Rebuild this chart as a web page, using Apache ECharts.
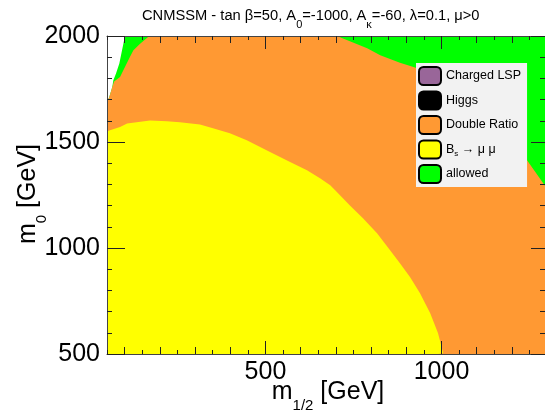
<!DOCTYPE html>
<html>
<head>
<meta charset="utf-8">
<script src="https://cdn.jsdelivr.net/npm/echarts@6/dist/echarts.min.js"></script>
<style>
  html, body { margin: 0; padding: 0; background: #ffffff; }
  #chart { width: 545px; height: 412px; }
</style>
</head>
<body>
<div id="chart"></div>
<script>
// Region edges in the (m_1/2, m_0) plane, GeV. Each region is filled from m_0 = 500 up to its edge.
const allowedEdgeX = [50, 56.5, 65, 68, 75.6, 85, 94.6, 101, 1300];
const allowedEdgeY = [1689, 1712, 1759, 1791, 1823, 1870, 1948, 2000, 2000];

const doubleRatioEdgeX = [50, 56.5, 65, 70, 72.7, 87, 101, 115, 125, 144, 170, 703, 789, 826, 882, 925, 1024, 1110, 1181, 1243, 1289, 1300];
const doubleRatioEdgeY = [1689, 1712, 1759, 1785, 1790, 1807, 1854, 1901, 1933, 1964, 2000, 2000, 1942, 1909, 1874, 1852, 1777, 1683, 1565, 1414, 1305, 1280];

const bsmmEdgeX = [50, 58.5, 87, 107, 172, 220, 257, 314, 351, 399, 447, 513, 570, 618, 655, 684, 698, 740, 777, 817, 854, 882, 911, 939, 968, 990, 1005, 1008];
const bsmmEdgeY = [1550, 1555, 1571, 1587, 1602, 1598, 1593, 1582, 1565, 1541, 1508, 1453, 1406, 1367, 1329, 1296, 1272, 1201, 1140, 1069, 989, 928, 862, 786, 692, 599, 503, 500];

// Legend entries (key, colour)
const legendKeys = ['Charged LSP', 'Higgs', 'Double Ratio', 'Bs', 'allowed'];
const legendColors = ['#996699', '#000000', '#FF9933', '#FFFF00', '#00FF00'];

// Axis ranges and tick spacings
const xRange = [50, 1294];
const yRange = [500, 2000];
const xSmallStep = 50, xMidStep = 100, xMajorStep = 500;
const yMajorStep = 500, yMinorSplit = 5;

// Axis titles (rich text: m = main, s = subscript)
const xTitle = '{m|m}{s|1/2}{m| [GeV]}';
const yTitle = '{m|m}{s|0}{m| [GeV]}';

const FONT = '"Liberation Sans", Arial, Helvetica, sans-serif';
const AXIS_COLOR = '#444';
const TICK_COLOR = '#222';

// plot frame in pixels
const FRAME_LEFT = 107, FRAME_RIGHT = 0, FRAME_TOP = 36, FRAME_BOTTOM = 58;
const PX_PER_GEV = (545 - FRAME_LEFT - FRAME_RIGHT) / (xRange[1] - xRange[0]);

function pairs(xs, ys) { return xs.map((x, i) => [x, ys[i]]); }

const titleRich = {
  m: { fontSize: 25, lineHeight: 28, verticalAlign: 'top', fontFamily: FONT, fill: '#000', color: '#000' },
  s: { fontSize: 15, lineHeight: 16, padding: [19, 0, 0, 0], verticalAlign: 'top', fontFamily: FONT, fill: '#000', color: '#000' }
};

// Three overlaid grids share the same GeV-to-pixel scale; each one starts at a
// tick-aligned m_1/2 so that 50/100/500 GeV ticks get their own lengths.
function gridFrom(xMin) {
  return {
    left: FRAME_LEFT + (xMin - xRange[0]) * PX_PER_GEV,
    right: FRAME_RIGHT, top: FRAME_TOP, bottom: FRAME_BOTTOM,
    outerBoundsMode: 'none'
  };
}

function xAxisDef(gridIndex, position, xMin, step, len, opts) {
  opts = opts || {};
  return {
    type: 'value', gridIndex: gridIndex, position: position,
    min: xMin, max: xRange[1], interval: step, zlevel: 1,
    splitLine: { show: false },
    axisLine: { show: !!opts.line, lineStyle: { color: AXIS_COLOR, width: 1 } },
    axisTick: { show: true, inside: true, length: len, lineStyle: { color: TICK_COLOR, width: 1 } },
    axisLabel: opts.labels
      ? { show: true, margin: 6, fontSize: 25, color: '#000', fontFamily: FONT, showMaxLabel: false, formatter: (v) => String(v) }
      : { show: false }
  };
}

function yAxisDef(gridIndex, position, opts) {
  opts = opts || {};
  return {
    type: 'value', gridIndex: gridIndex, position: position,
    min: yRange[0], max: yRange[1], interval: yMajorStep, zlevel: 1,
    show: opts.show !== false,
    splitLine: { show: false },
    axisLine: { show: true, lineStyle: { color: AXIS_COLOR, width: 1 } },
    axisTick: { show: true, inside: true, length: opts.tickLen || 18, lineStyle: { color: TICK_COLOR, width: 1 } },
    minorTick: { show: true, splitNumber: yMinorSplit, length: 5, lineStyle: { color: TICK_COLOR, width: 1 } },
    axisLabel: opts.labels
      ? { show: true, margin: 7, fontSize: 25, color: '#000', fontFamily: FONT, formatter: (v) => String(v) }
      : { show: false }
  };
}

function regionSeries(name, xs, ys, color) {
  return {
    name: name, type: 'line', xAxisIndex: 0, yAxisIndex: 0, z: 1,
    data: pairs(xs, ys),
    color: color,
    showSymbol: false, symbol: 'none', smooth: false, silent: true,
    lineStyle: { width: 0, color: color },
    areaStyle: { origin: 'start', color: color, opacity: 1 }
  };
}

const series = [
  regionSeries('allowed', allowedEdgeX, allowedEdgeY, legendColors[4]),
  regionSeries('Double Ratio', doubleRatioEdgeX, doubleRatioEdgeY, legendColors[2]),
  regionSeries('Bs', bsmmEdgeX, bsmmEdgeY, legendColors[3]),
  { name: 'Charged LSP', type: 'line', data: [], color: legendColors[0], showSymbol: false, lineStyle: { width: 0 } },
  { name: 'Higgs', type: 'line', data: [], color: legendColors[1], showSymbol: false, lineStyle: { width: 0 } }
];

const chart = echarts.init(document.getElementById('chart'), null, { renderer: 'canvas' });
chart.setOption({
  animation: false,
  title: {
    text: 'CNMSSM - tan \u03b2=50, A{s|0}=-1000, A{s|\u03ba}=-60, \u03bb=0.1, \u03bc>0',
    left: 137, top: 3,
    textStyle: {
      fontFamily: FONT, fontSize: 14.7, fontWeight: 'normal', color: '#000',
      rich: {
        s: { fontSize: 11, lineHeight: 12, padding: [11, 0, 0, 0], verticalAlign: 'top', fontFamily: FONT, color: '#000' }
      }
    }
  },
  graphic: [
    { type: 'text', x: 328, y: 379.5, silent: true,
      style: { text: xTitle, align: 'center', verticalAlign: 'top', font: '25px ' + FONT, fill: '#000', rich: titleRich } },
    { type: 'text', x: 29.5, y: 194, rotation: Math.PI / 2, silent: true,
      style: { text: yTitle, align: 'center', verticalAlign: 'middle', font: '25px ' + FONT, fill: '#000', rich: titleRich } }
  ],
  grid: [gridFrom(xRange[0]), gridFrom(xMidStep), gridFrom(xMajorStep)],
  xAxis: [
    xAxisDef(0, 'bottom', xRange[0], xSmallStep, 4, { line: true }),
    xAxisDef(0, 'top', xRange[0], xSmallStep, 4, { line: true }),
    xAxisDef(1, 'bottom', xMidStep, xMidStep, 7),
    xAxisDef(1, 'top', xMidStep, xMidStep, 7),
    xAxisDef(2, 'bottom', xMajorStep, xMajorStep, 13, { labels: true }),
    xAxisDef(2, 'top', xMajorStep, xMajorStep, 13)
  ],
  yAxis: [
    yAxisDef(0, 'left', { labels: true, tickLen: 18 }),
    yAxisDef(0, 'right', { tickLen: 14 }),
    yAxisDef(1, 'left', { show: false }),
    yAxisDef(2, 'left', { show: false })
  ],
  legend: {
    left: 416, top: 63, orient: 'vertical', zlevel: 1, z: 20,
    backgroundColor: '#F2F2F2',
    padding: [3, 6, 3, 2],
    itemWidth: 22, itemHeight: 18, itemGap: 4.5,
    icon: 'roundRect',
    selectedMode: false,
    data: legendKeys.map((k, i) => ({
      name: k,
      icon: 'roundRect',
      itemStyle: { color: legendColors[i], borderColor: '#000', borderWidth: 2 }
    })),
    itemStyle: { borderColor: '#000', borderWidth: 2 },
    formatter: (name) => name === 'Bs' ? 'B{s|s} \u2192 \u03bc \u03bc' : name,
    textStyle: {
      fontFamily: FONT, fontSize: 12.5, color: '#000', padding: [0, 0, 0, 0],
      rich: {
        s: { fontSize: 8, lineHeight: 9, padding: [7, 0, 0, 0], verticalAlign: 'top', fontFamily: FONT, color: '#000' }
      }
    }
  },
  series: series
});
</script>
</body>
</html>
